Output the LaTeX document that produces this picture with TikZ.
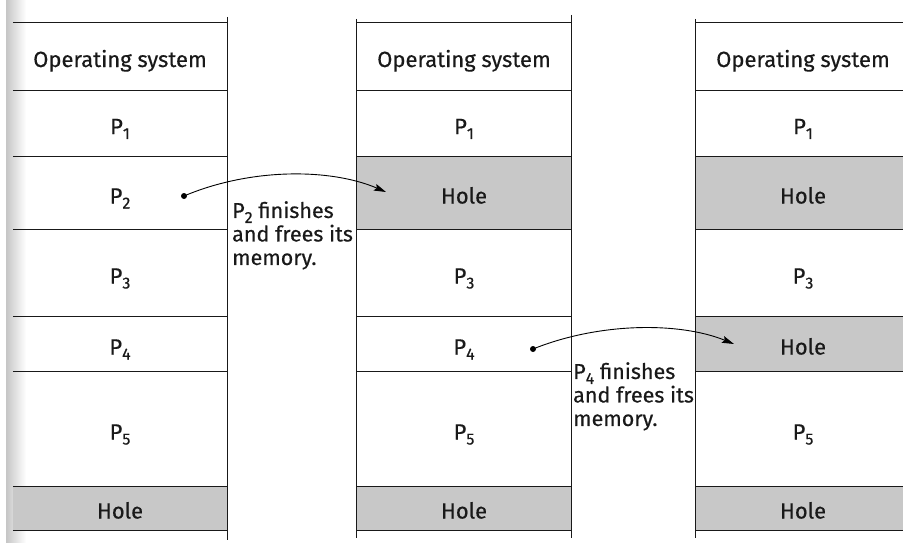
\documentclass[tikz,border=0pt]{standalone}
\usepackage{fontspec}
\setmainfont{Fira Sans}[FakeBold=0.4]
\usetikzlibrary{arrows.meta}
\definecolor{holegray}{RGB}{200,200,200}
\definecolor{inkc}{RGB}{25,25,25}
\tikzset{
  cell/.style={rectangle, inner sep=0pt, minimum width=214pt, text height=20pt, text depth=0pt, font=\fontsize{22}{26}\selectfont, text=inkc},
  hole/.style={cell, fill=holegray},
  rule/.style={draw=inkc, line width=1.3pt},
  dotnode/.style={circle, fill=black, inner sep=0pt, minimum size=6pt},
  moveto/.style={draw=black, line width=0.9pt, -{Stealth[length=12pt,width=7pt,inset=2pt]}},
  note/.style={anchor=north west, align=left, inner sep=0pt, font=\fontsize{21.5}{23.5}\selectfont, text=inkc}
}
\newcommand{\Pn}[1]{P\raisebox{-5pt}{\fontsize{16}{16}\selectfont #1}}
\begin{document}
\begin{tikzpicture}[x=1pt,y=-1pt]
\useasboundingbox (0,0) rectangle (903,543);
\fill[white] (0,0) rectangle (903,543);
\shade[left color=gray!45, right color=white] (6,0) rectangle (26,543);
% column 1
\node[cell, minimum height=68pt] (a1) at (120,57) {Operating system};
\node[cell, minimum height=66pt] (a2) at (120,124) {\Pn{1}};
\node[cell, minimum height=73pt] (a3) at (120,193.5) {\Pn{2}};
\node[cell, minimum height=87pt] (a4) at (120,273.5) {\Pn{3}};
\node[cell, minimum height=55pt] (a5) at (120,344.5) {\Pn{4}};
\node[cell, minimum height=115pt] (a6) at (120,429.5) {\Pn{5}};
\node[hole, minimum height=43pt] (a7) at (120,508.5) {Hole};
% column 2
\node[cell, minimum height=68pt] (b1) at (464,57) {Operating system};
\node[cell, minimum height=66pt] (b2) at (464,124) {\Pn{1}};
\node[hole, minimum height=73pt] (b3) at (464,193.5) {Hole};
\node[cell, minimum height=87pt] (b4) at (464,273.5) {\Pn{3}};
\node[cell, minimum height=55pt] (b5) at (464,344.5) {\Pn{4}};
\node[cell, minimum height=115pt] (b6) at (464,429.5) {\Pn{5}};
\node[hole, minimum height=43pt] (b7) at (464,508.5) {Hole};
% column 3
\node[cell, minimum height=68pt] (c1) at (803,57) {Operating system};
\node[cell, minimum height=66pt] (c2) at (803,124) {\Pn{1}};
\node[hole, minimum height=73pt] (c3) at (803,193.5) {Hole};
\node[cell, minimum height=87pt] (c4) at (803,273.5) {\Pn{3}};
\node[hole, minimum height=55pt] (c5) at (803,344.5) {Hole};
\node[cell, minimum height=115pt] (c6) at (803,429.5) {\Pn{5}};
\node[hole, minimum height=43pt] (c7) at (803,508.5) {Hole};
% horizontal rules
\foreach \c in {a,b,c}{
  \foreach \i in {1,...,7}{
    \draw[rule] (\c\i.north west) -- (\c\i.north east);
  }
  \draw[rule] (\c7.south west) -- (\c7.south east);
}
% vertical rules
\draw[rule] ([yshift=6pt]a1.north east) -- ([yshift=-10pt]a7.south east);
\draw[rule] ([yshift=4pt]b1.north west) -- ([yshift=-8pt]b7.south west);
\draw[rule] ([yshift=8pt]b1.north east) -- ([yshift=-8pt]b7.south east);
\draw[rule] ([yshift=4pt]c1.north west) -- ([yshift=-8pt]c7.south west);
% notes and arrows
\node[note] (n1) at (232,201) {\Pn{2} finishes\\and frees its\\memory.};
\node[note] (n2) at (573,362) {\Pn{4} finishes\\and frees its\\memory.};
\node[dotnode] (d1) at (184,196) {};
\coordinate (t1) at (386,192);
\node[dotnode] (d2) at (533,349) {};
\coordinate (t2) at (734,344);
\draw[moveto] (d1.center) .. controls (250,168) and (330,168) .. (t1);
\draw[moveto] (d2.center) .. controls (600,322) and (680,322) .. (t2);
\end{tikzpicture}
\end{document}
